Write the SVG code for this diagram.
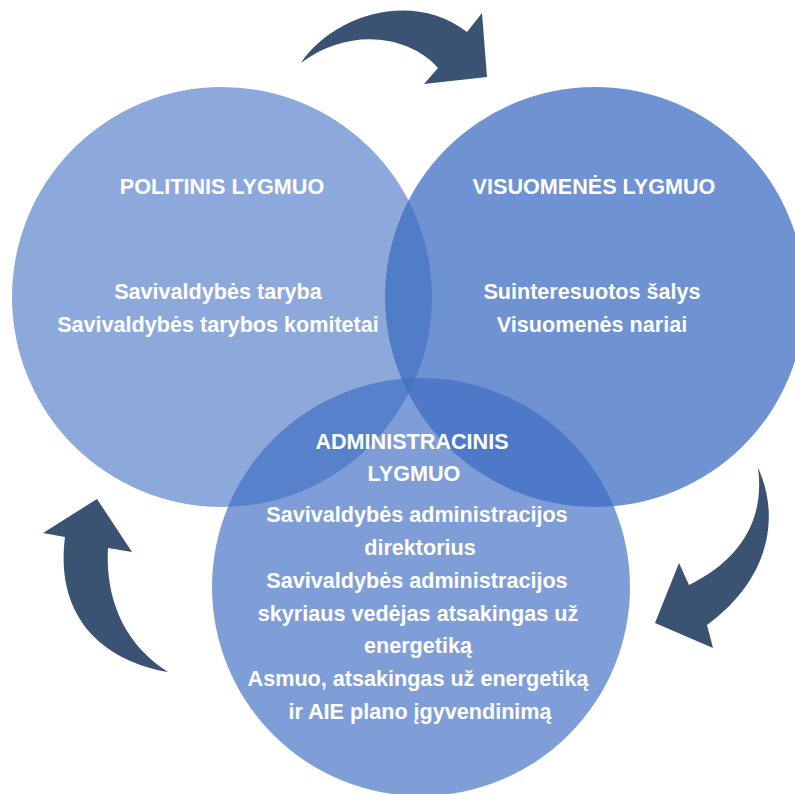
<svg xmlns="http://www.w3.org/2000/svg" width="795" height="794" viewBox="0 0 795 794">
<style>
.c{fill:#3E6DC2}
.t{font-family:"Liberation Sans",Arial,sans-serif;font-weight:bold;font-size:21.6px;fill:#FFFFFF;text-anchor:middle}
.a{fill:#3A5372}
</style>
<rect width="795" height="794" fill="#FFFFFF"/>
<g id="node-visuomenes">
<circle class="c" cx="595" cy="297" r="210" fill-opacity="0.746"/>
<text class="t" x="594" y="194">VISUOMENĖS LYGMUO</text>
<text class="t" x="592" y="299">Suinteresuotos šalys</text>
<text class="t" x="592" y="332">Visuomenės nariai</text>
</g>
<g id="node-politinis">
<circle class="c" cx="222" cy="297" r="210" fill-opacity="0.59"/>
<text class="t" x="222" y="194">POLITINIS LYGMUO</text>
<text class="t" x="218" y="299">Savivaldybės taryba</text>
<text class="t" x="218" y="332">Savivaldybės tarybos komitetai</text>
</g>
<g id="node-administracinis">
<circle class="c" cx="421" cy="587" r="209" fill-opacity="0.663"/>
<text class="t" x="412" y="449">ADMINISTRACINIS</text>
<text class="t" x="414" y="481">LYGMUO</text>
<text class="t" x="417" y="522">Savivaldybės administracijos</text>
<text class="t" x="420" y="555">direktorius</text>
<text class="t" x="417" y="588">Savivaldybės administracijos</text>
<text class="t" x="418" y="621">skyriaus vedėjas atsakingas už</text>
<text class="t" x="418" y="653">energetiką</text>
<text class="t" x="418" y="686">Asmuo, atsakingas už energetiką</text>
<text class="t" x="420" y="719">ir AIE plano įgyvendinimą</text>
</g>
<g id="connectors">
<path class="a" d="M301,63 C330,18 410,-12 467,32 L482,13 L487,77 L424,84 L438,68 C410,36 350,26 301,63 Z"/>
<path class="a" d="M758,468 C776,505 779,572 707,625 L713,648 L655,623 L679,563 L689,585 C740,560 765,520 758,468 Z"/>
<path class="a" d="M168,672 C100,660 55,615 65,537 L43,533 L97,499 L132,552 L108,548 C105,600 125,645 168,672 Z"/>
</g>
</svg>
